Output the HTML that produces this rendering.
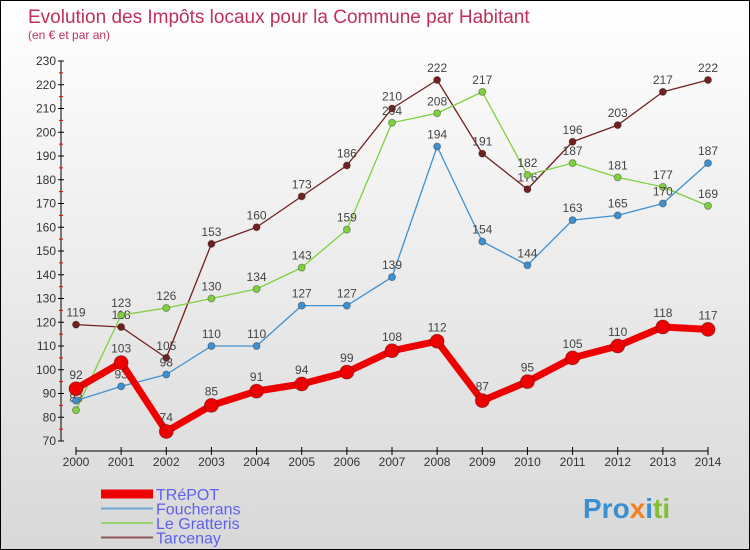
<!DOCTYPE html>
<html><head><meta charset="utf-8"><style>
body{margin:0}
#c{width:748px;height:548px;border:1px solid #000;background:linear-gradient(#fff,#d8d8d8);position:relative;overflow:hidden;font-family:"Liberation Sans",sans-serif}
</style></head><body>
<div id="c">
<svg id="s" width="748" height="548" xmlns="http://www.w3.org/2000/svg">
<text x="27" y="22" font-size="19" fill="#c0305a">Evolution des Impôts locaux pour la Commune par Habitant</text>
<text x="27" y="38" font-size="12" fill="#c0305a">(en € et par an)</text>
<g id="g"></g>
<text x="582" y="517" font-size="28" font-weight="bold" fill="#3a8fd0">Pro<tspan fill="#f08020">x</tspan><tspan fill="#3a8fd0">i</tspan><tspan fill="#80c030">ti</tspan></text>
</svg>
</div>
<script>
const years=[2000,2001,2002,2003,2004,2005,2006,2007,2008,2009,2010,2011,2012,2013,2014];
const treport=[92,103,74,85,91,94,99,108,112,87,95,105,110,118,117];
const foucherans=[87,93,98,110,110,127,127,139,194,154,144,163,165,170,187];
const gratteris=[83,123,126,130,134,143,159,204,208,217,182,187,181,177,169];
const tarcenay=[119,118,105,153,160,173,186,210,222,191,176,196,203,217,222];
const yTicks=[70,80,90,100,110,120,130,140,150,160,170,180,190,200,210,220,230];
const NS="http://www.w3.org/2000/svg";
const g=document.getElementById('g');
const X=i=>75+i*(707-75)/(years.length-1);
const Y=v=>440-(v-70)*380/160;
function mk(t,a,p){const e=document.createElementNS(NS,t);for(const k in a)e.setAttribute(k,a[k]);(p||g).appendChild(e);return e;}
let ax=mk('line',{x1:60,y1:60,x2:60,y2:440,stroke:'#000'});


yTicks.forEach((v,i)=>{
 mk('line',{x1:57,y1:Y(v),x2:63,y2:Y(v),stroke:'#000'});
 if(i<yTicks.length-1)mk('line',{x1:58,y1:Y(v+5),x2:62,y2:Y(v+5),stroke:'#e00'});
 const t=mk('text',{x:55,y:Y(v)+4,'font-size':12,'text-anchor':'end',fill:'#333'});t.textContent=v;
 
 
});
let xa=mk('line',{x1:75,y1:450,x2:707,y2:450,stroke:'#000'});


years.forEach((y,i)=>{
 mk('line',{x1:X(i),y1:446,x2:X(i),y2:454,stroke:'#000'});
 const t=mk('text',{x:X(i),y:465,'font-size':12,'text-anchor':'middle',fill:'#333'});t.textContent=y;
 
 
});
const series=[
 {n:'tarcenay',d:tarcenay,c:'#702020',w:1.3,r:3.5},
 {n:'gratteris',d:gratteris,c:'#80d040',w:1.3,r:3.5},
 {n:'foucherans',d:foucherans,c:'#4090d0',w:1.3,r:3.5},
 {n:'treport',d:treport,c:'#ee0000',w:7,r:7}];
series.forEach(s=>{
 const l=mk('polyline',{points:s.d.map((v,i)=>X(i)+','+Y(v)).join(' '),fill:'none',stroke:s.c,'stroke-width':s.w,'stroke-linejoin':'round'});
 
 
 s.d.forEach((v,i)=>{
  const p=mk('circle',{cx:X(i),cy:Y(v),r:s.r,fill:s.c,stroke:'rgba(0,0,0,0.3)'});
  
  
  const t=mk('text',{x:X(i),y:Y(v)-(s.w>5?10:8),'font-size':12,'text-anchor':'middle',fill:'#444'});t.textContent=v;
  
  
 });
});
const leg=[['TRéPOT','#ee0000',9],['Foucherans','#4090d0',2],['Le Gratteris','#80d040',2],['Tarcenay','#702020',2]];
leg.forEach((e,i)=>{
 const y=493+i*14.5;
 const l=mk('line',{x1:100,y1:y,x2:152,y2:y,stroke:e[1],'stroke-width':e[2],opacity:e[2]>5?1:0.7});
 
 
 const t=mk('text',{x:155,y:y+6,'font-size':16,fill:'#6060f0'});t.textContent=e[0];
 
 
});
</script>
</body></html>
